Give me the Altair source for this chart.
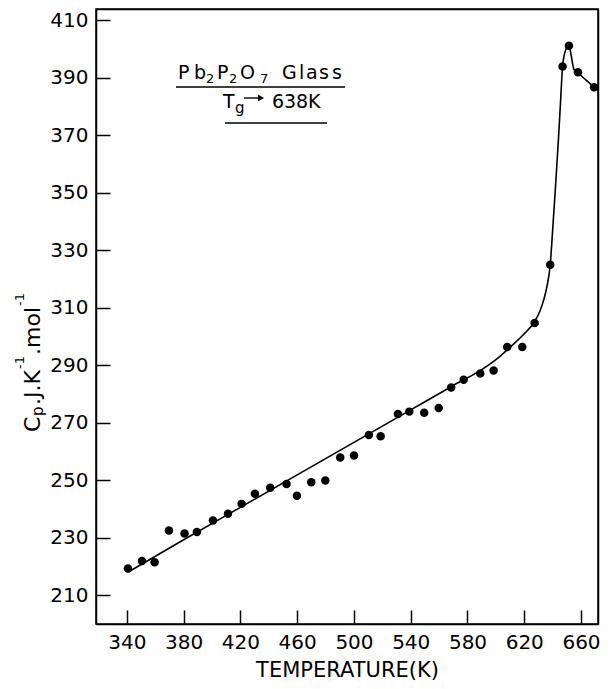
import altair as alt
import pandas as pd

# measured data points (Temperature K, Cp J/K/mol)
pt_T = [340.7, 350.6, 359.5, 369.6, 380.6, 389.3, 400.6, 411.2, 420.8, 430.2,
        441.0, 452.5, 459.8, 469.9, 479.8, 490.3, 500.0, 510.5, 518.8, 531.0,
        539.0, 549.5, 559.7, 568.5, 577.3, 589.0, 598.4, 608.0, 618.6, 627.3,
        638.3, 647.0, 651.5, 657.8, 669.2]
pt_Cp = [219.3, 221.9, 221.5, 232.5, 231.5, 232.0, 236.0, 238.4, 241.8, 245.3,
         247.4, 248.7, 244.6, 249.3, 249.9, 257.9, 258.6, 265.8, 265.3, 273.1,
         273.9, 273.5, 275.2, 282.3, 285.0, 287.2, 288.2, 296.4, 296.4, 304.7,
         325.0, 394.0, 401.2, 392.0, 386.8]

# fitted curve as drawn
curve_T = [341, 380, 420, 460, 500, 540, 570, 590, 600, 610, 620, 627,
           631, 634, 636, 638.3, 640, 642, 644, 645.5, 647, 649, 651.5,
           653, 655, 657.8, 663, 669, 674]
curve_Cp = [218.1, 229.3, 240.6, 251.9, 263.2, 274.5, 283.0, 288.5, 292.0,
            296.3, 301.0, 305.0, 308.8, 313.3, 317.5, 325.0, 337.0, 352.0,
            368.0, 381.0, 394.0, 399.5, 401.2, 398.0, 393.0, 391.8, 389.5,
            386.9, 385.2]

x_ticks = [340, 380, 420, 460, 500, 540, 580, 620, 660]
y_ticks = [210, 230, 250, 270, 290, 310, 330, 350, 370, 390, 410]

W, H = 502, 615
FONT = "DejaVu Sans"
X0, X1 = 318.2, 318.2 + W / 1.419
Y0, Y1 = 200.0, 414.0
TICK = 14

pts = pd.DataFrame({"T": pt_T, "Cp": pt_Cp})
crv = pd.DataFrame({"T": curve_T, "Cp": curve_Cp})

xscale = alt.Scale(domain=[X0, X1], nice=False, zero=False)
yscale = alt.Scale(domain=[Y0, Y1], nice=False, zero=False)

# main axes: labels, left/bottom lines, title
xmain = alt.X("T:Q", scale=xscale, axis=alt.Axis(
    orient="bottom", values=x_ticks, ticks=False, grid=False,
    labelFont=FONT, labelFontSize=20, labelColor="black", labelPadding=8,
    domainColor="black", domainWidth=1.5,
    title="TEMPERATURE(K)", titleFont=FONT, titleFontSize=21,
    titleFontWeight="normal", titleColor="black", titlePadding=7,
    labelFlush=False))
ymain = alt.Y("Cp:Q", scale=yscale, axis=alt.Axis(
    orient="left", values=y_ticks, ticks=False, grid=False,
    labelFont=FONT, labelFontSize=20, labelColor="black", labelPadding=8,
    domainColor="black", domainWidth=1.5, title=None, labelFlush=False))

# inward ticks: tick-only axes pulled inside the plot
xin = alt.X("T:Q", scale=xscale, axis=alt.Axis(
    orient="bottom", offset=-TICK, values=x_ticks, ticks=True,
    tickSize=TICK, tickWidth=1.5, tickColor="black", labels=False,
    domain=False, grid=False, title=None))
yin = alt.Y("Cp:Q", scale=yscale, axis=alt.Axis(
    orient="left", offset=-TICK, values=y_ticks, ticks=True,
    tickSize=TICK, tickWidth=1.5, tickColor="black", labels=False,
    domain=False, grid=False, title=None))

# top and right frame lines as bare axis lines
xtop = alt.X("T:Q", scale=xscale, axis=alt.Axis(
    orient="top", ticks=False, labels=False, grid=False, domain=True,
    domainColor="black", domainWidth=1.5, title=None))
yright = alt.Y("Cp:Q", scale=yscale, axis=alt.Axis(
    orient="right", ticks=False, labels=False, grid=False, domain=True,
    domainColor="black", domainWidth=1.5, title=None))

line = alt.Chart(crv).mark_line(color="black", strokeWidth=1.6,
                                interpolate="monotone", clip=True).encode(
    x=xmain, y=ymain)
dots = alt.Chart(pts).mark_circle(color="black", opacity=1, size=72).encode(
    x=xin, y=yin)
frame = alt.Chart(pts).mark_circle(opacity=0, size=1).encode(
    x=xtop, y=yright)


def txt(s, x, y, size=19, angle=0):
    return alt.Chart(pd.DataFrame({"t": [s]})).mark_text(
        font=FONT, fontSize=size, align="left", baseline="alphabetic",
        color="black", angle=angle).encode(
        text="t:N", x=alt.value(x), y=alt.value(y))


def hrule(x1, x2, y, w=1.5):
    return alt.Chart(pd.DataFrame({"a": [0]})).mark_rule(
        color="black", strokeWidth=w).encode(
        x=alt.value(x1), x2=alt.value(x2), y=alt.value(y))


# page coordinates -> plot-relative coordinates
PX, PY = 96, 9
line1 = [("P", 178, 0), ("b", 194, 0), ("2", 206, 1), ("P", 217, 0),
         ("2", 229, 1), ("O", 240, 0), ("7", 260, 1), ("G", 282, 0),
         ("l", 299, 0), ("a", 306, 0), ("s", 319, 0), ("s", 332, 0)]
ann = []
for ch, px, sub in line1:
    if sub:
        ann.append(txt(ch, px - PX, 83 - PY, size=13))
    else:
        ann.append(txt(ch, px - PX, 79 - PY))
ann += [
    hrule(176 - PX, 345 - PX, 87 - PY),
    txt("T", 223 - PX, 108 - PY),
    txt("g", 235 - PX, 113 - PY, size=15),
    hrule(244 - PX, 258 - PX, 98 - PY, w=1.4),
    alt.Chart(pd.DataFrame({"a": [0]})).mark_point(
        shape="triangle-right", filled=True, color="black", size=50,
        opacity=1).encode(x=alt.value(261 - PX), y=alt.value(98 - PY)),
    txt("6", 272 - PX, 108 - PY),
    txt("3", 284 - PX, 108 - PY),
    txt("8", 296 - PX, 108 - PY),
    txt("K", 308 - PX, 108 - PY),
    hrule(225 - PX, 327 - PX, 123 - PY),
]

# rotated y-axis title built from pieces (reads bottom to top)
ytitle = [
    txt("C", 40 - PX, 432 - PY, size=22, angle=270),
    txt("p", 43 - PX, 416 - PY, size=15, angle=270),
    txt(".J.K", 40 - PX, 405 - PY, size=22, angle=270),
    txt("-1", 24 - PX, 369 - PY, size=13, angle=270),
    txt(".mol", 40 - PX, 355 - PY, size=22, angle=270),
    txt("-1", 24 - PX, 306 - PY, size=13, angle=270),
]

chart = alt.layer(line, dots, frame, *ann, *ytitle).resolve_axis(
    x="independent", y="independent"
).properties(
    width=W, height=H,
    autosize=alt.AutoSizeParams(type="none"),
    padding={"left": PX - 8, "top": 1, "right": 3, "bottom": 57},
).configure_view(stroke="black", strokeWidth=1.5)

chart.save("out.html", embed_options={"renderer": "svg", "actions": False})
